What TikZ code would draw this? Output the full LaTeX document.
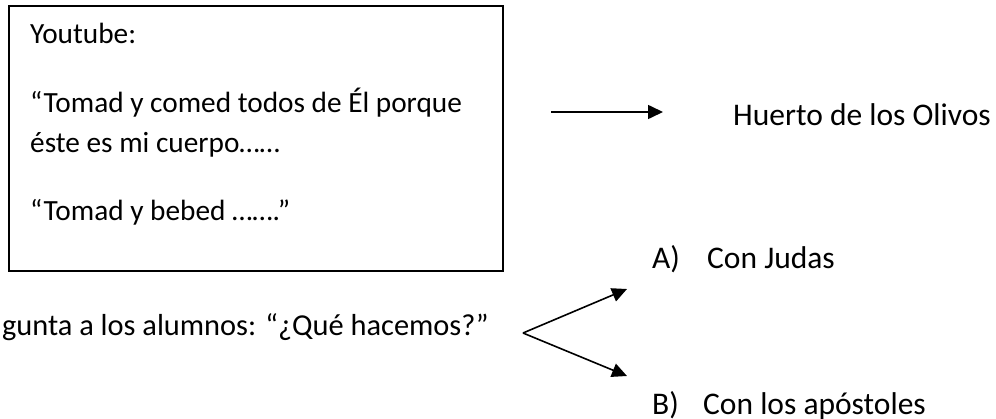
\documentclass[tikz,border=0pt]{standalone}
\usepackage{fontspec}
\setmainfont{Carlito}
\usetikzlibrary{arrows.meta}
\begin{document}
\begin{tikzpicture}[x=1pt,y=-1pt,
  boxtxt/.style={anchor=base west,inner sep=0pt,font=\fontsize{29.3}{36}\selectfont},
  txt/.style={anchor=base west,inner sep=0pt,font=\fontsize{31.5}{38}\selectfont},
  txtr/.style={anchor=base east,inner sep=0pt,font=\fontsize{30.4}{37}\selectfont},
  conn/.style={line width=1.6pt,-{Triangle[length=15pt,width=14pt]}}]
\useasboundingbox (0,0) rectangle (996,418);
\node[draw,line width=2pt,anchor=north west,minimum width=494pt,minimum height=265pt,inner sep=0pt] (box) at (8,5) {};
\node[boxtxt] (yt) at (30,43) {Youtube:};
\node[boxtxt] (l1) at (30,112) {“Tomad y comed todos de Él porque};
\node[boxtxt] (l2) at (30,152) {éste es mi cuerpo……};
\node[boxtxt] (l3) at (30,220) {“Tomad y bebed …….”};
\node[txt] (huerto) at (733,125) {Huerto de los Olivos};
\node[txtr] (preg) at (489,335) {gunta a los alumnos: “¿Qué hacemos?”};
\node[txt] (a) at (652,268) {A)};
\node[txt] (ja) at (707,268) {Con Judas};
\node[txt] (b) at (652,414) {B)};
\node[txt] (jb) at (703,414) {Con los apóstoles};
\coordinate (s1) at (551,112);
\coordinate (e1) at (663,112);
\coordinate (fork) at (523,333);
\coordinate (ea) at (627,289);
\coordinate (eb) at (627,376);
\draw[conn] (s1) -- (e1);
\draw[conn] (fork) -- (ea);
\draw[conn] (fork) -- (eb);
\end{tikzpicture}
\end{document}
